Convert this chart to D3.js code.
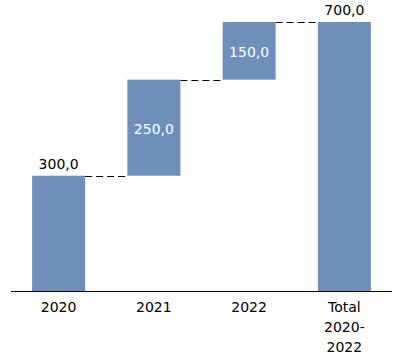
<!DOCTYPE html>
<html>
<head>
<meta charset="utf-8">
<script src="https://cdn.jsdelivr.net/npm/d3@7"></script>
<style>
html,body{margin:0;padding:0;background:#fff;}
svg{display:block;}
</style>
</head>
<body>
<svg id="chart" width="414" height="364"></svg>
<script>
const categories = [["2020"], ["2021"], ["2022"], ["Total", "2020-", "2022"]];
const values = [300, 250, 150, 700];
const isTotal = [false, false, false, true];
const valueLabels = ["300,0", "250,0", "150,0", "700,0"];
const labelInside = [false, true, true, false];

const W = 414, H = 364;
const barColor = "#6f8fbb";
const font = "'DejaVu Sans', sans-serif";

// compute waterfall start/end
let cum = 0;
const rows = values.map((v, i) => {
  let start, end;
  if (isTotal[i]) { start = 0; end = v; cum = v; }
  else { start = cum; end = cum + v; cum = end; }
  return { i, key: String(i), start, end, v };
});

const svg = d3.select("#chart");
const x = d3.scaleBand().domain(rows.map(r => r.key)).range([11, 392])
  .paddingInner(0.4436).paddingOuter(0.2218);
const y = d3.scaleLinear().domain([0, 700]).range([291, 22]);

// connectors
for (let k = 0; k < rows.length - 1; k++) {
  const r = rows[k];
  const lvl = r.end;
  svg.append("line")
    .attr("x1", x(r.key) + x.bandwidth())
    .attr("x2", x(rows[k + 1].key))
    .attr("y1", Math.round(y(lvl)) + 0.5)
    .attr("y2", Math.round(y(lvl)) + 0.5)
    .attr("stroke", "#000").attr("stroke-width", 1)
    .attr("stroke-dasharray", "7,4");
}

// bars
svg.selectAll("rect.bar").data(rows).enter().append("rect")
  .attr("class", "bar")
  .attr("x", d => x(d.key))
  .attr("width", x.bandwidth())
  .attr("y", d => y(Math.max(d.start, d.end)))
  .attr("height", d => Math.abs(y(d.start) - y(d.end)))
  .attr("fill", barColor);

// axis line
const axis = d3.axisBottom(x).tickSize(0).tickFormat("");
const gAxis = svg.append("g").attr("transform", "translate(0,291)").call(axis);
gAxis.select(".domain").attr("stroke", "#000").attr("d", "M11,0.5H392");

// category labels
rows.forEach((r, i) => {
  const t = svg.append("text")
    .attr("x", x(r.key) + x.bandwidth() / 2)
    .attr("y", 312)
    .attr("text-anchor", "middle")
    .attr("font-family", font).attr("font-size", 14).attr("fill", "#000");
  categories[i].forEach((line, j) => {
    t.append("tspan").attr("x", x(r.key) + x.bandwidth() / 2)
      .attr("dy", j === 0 ? 0 : 20).text(line);
  });
});

// value labels
rows.forEach((r, i) => {
  const cx = x(r.key) + x.bandwidth() / 2;
  if (labelInside[i]) {
    const mid = (y(r.start) + y(r.end)) / 2;
    svg.append("text").attr("x", cx).attr("y", mid + 6)
      .attr("text-anchor", "middle").attr("font-family", font)
      .attr("font-size", 14).attr("fill", "#fff").text(valueLabels[i]);
  } else {
    svg.append("text").attr("x", cx).attr("y", y(r.end) - 7)
      .attr("text-anchor", "middle").attr("font-family", font)
      .attr("font-size", 14).attr("fill", "#000").text(valueLabels[i]);
  }
});
</script>
</body>
</html>
